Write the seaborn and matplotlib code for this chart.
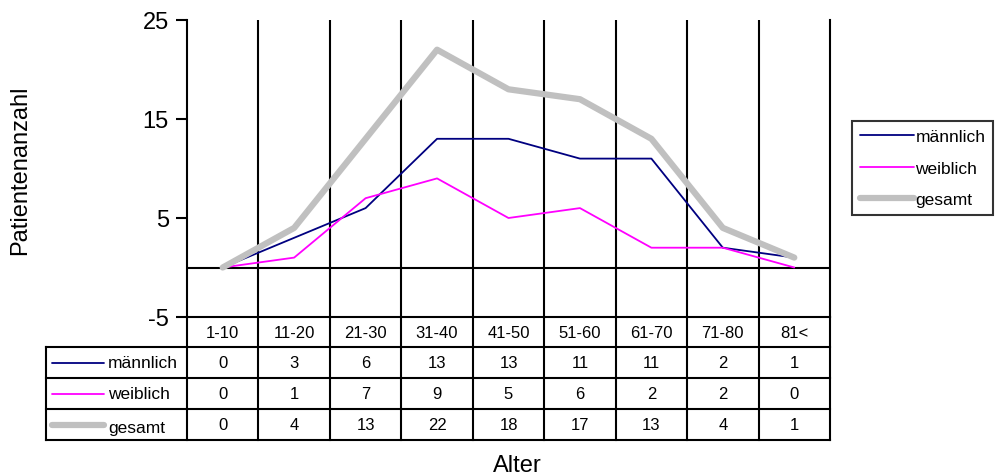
import matplotlib
matplotlib.use("Agg")
import matplotlib.pyplot as plt
from matplotlib.lines import Line2D
import seaborn as sns
import pandas as pd

# Altersgruppen und Patientenzahlen
categories = ["1-10", "11-20", "21-30", "31-40", "41-50", "51-60", "61-70", "71-80", "81<"]
maennlich = [0, 3, 6, 13, 13, 11, 11, 2, 1]
weiblich = [0, 1, 7, 9, 5, 6, 2, 2, 0]
gesamt = [0, 4, 13, 22, 18, 17, 13, 4, 1]
series_names = ["männlich", "weiblich", "gesamt"]
y_ticks = [-5, 5, 15, 25]

sns.set_theme(style="white")
plt.rcParams["font.family"] = ["Liberation Sans", "DejaVu Sans"]
plt.rcParams["text.color"] = "black"
plt.rcParams["ytick.color"] = "black"
plt.rcParams["ytick.labelcolor"] = "black"

W, H = 996, 477
fig = plt.figure(figsize=(W / 100, H / 100), dpi=100)

# plot area in pixel coordinates
X0, X1 = 187, 830
Y_TOP, Y_BOT = 21, 318
ax = fig.add_axes([X0 / W, 1 - Y_BOT / H, (X1 - X0) / W, (Y_BOT - Y_TOP) / H])

df = pd.DataFrame({
    "pos": [i + 0.5 for i in range(len(categories))] * 3,
    "wert": maennlich + weiblich + gesamt,
    "serie": [series_names[0]] * len(categories)
    + [series_names[1]] * len(categories)
    + [series_names[2]] * len(categories),
})
palette = {"männlich": "#000080", "weiblich": "#FF00FF", "gesamt": "#C0C0C0"}
widths = {"männlich": 1.3, "weiblich": 1.3, "gesamt": 4.5}

for name in series_names:
    sns.lineplot(data=df[df["serie"] == name], x="pos", y="wert", color=palette[name],
                 lw=widths[name], ax=ax, legend=False, solid_capstyle="round",
                 solid_joinstyle="round", zorder=3)

ax.set_xlim(0, len(categories))
ax.set_ylim(-5, 25)
ax.set_yticks(y_ticks)
ax.set_yticklabels([str(v) for v in y_ticks], fontsize=17)
ax.set_xticks([])
ax.set_xlabel("")
ax.set_ylabel("")
ax.tick_params(axis="y", direction="out", length=8, width=1.5, color="black", pad=5, left=True)
for s in ["top", "bottom"]:
    ax.spines[s].set_visible(False)
for s in ["left", "right"]:
    ax.spines[s].set_color("black")
    ax.spines[s].set_linewidth(1.5)
ax.axhline(0, color="black", lw=1.5, zorder=2)
for i in range(1, len(categories)):
    ax.axvline(i, color="black", lw=1.5, zorder=2)


def px(x, y):
    return x / W, 1 - y / H


def fline(x0, y0, x1, y1, **kw):
    (a, b), (c, d) = px(x0, y0), px(x1, y1)
    fig.add_artist(Line2D([a, c], [b, d], transform=fig.transFigure,
                          color=kw.get("color", "black"), lw=kw.get("lw", 1.5),
                          solid_capstyle=kw.get("cap", "projecting")))


# data table below the plot
col_w = (X1 - X0) / len(categories)
row_y = [318, 348, 379, 410, 441]
TBL_LEFT = 46
fline(X0, row_y[0], X1, row_y[0])
for yy in row_y[1:]:
    fline(TBL_LEFT, yy, X1, yy)
fline(TBL_LEFT, row_y[1], TBL_LEFT, row_y[-1])
for i in range(len(categories) + 1):
    xx = X0 + i * col_w
    fline(xx, row_y[0], xx, row_y[-1])

for i, c in enumerate(categories):
    fig.text(*px(X0 + (i + 0.5) * col_w, (row_y[0] + row_y[1]) / 2 + 1), c,
             ha="center", va="center", fontsize=12)

rows = [maennlich, weiblich, gesamt]
for r, (name, vals) in enumerate(zip(series_names, rows)):
    yc = (row_y[r + 1] + row_y[r + 2]) / 2
    fline(52, yc, 104, yc, color=palette[name], lw=widths[name], cap="round")
    fig.text(*px(108, yc + (3 if name == "gesamt" else 0)), name, ha="left", va="center", fontsize=12.5)
    for i, v in enumerate(vals):
        fig.text(*px(X0 + (i + 0.5) * col_w, yc), str(v), ha="center", va="center", fontsize=12)

# legend
handles = [Line2D([], [], color=palette[n], lw=widths[n], solid_capstyle="round") for n in series_names]
leg = fig.legend(handles, series_names, loc="upper left", bbox_to_anchor=px(852, 122),
                 fontsize=12.5, frameon=True, fancybox=False, handlelength=3.1,
                 handletextpad=0.1, borderpad=0.45, labelspacing=0.95, borderaxespad=0)
leg.get_frame().set_edgecolor("black")
leg.get_frame().set_linewidth(1.5)

fig.text(*px(20, 170), "Patientenanzahl", rotation=90, ha="center", va="center", fontsize=17)
fig.text(*px(517, 466), "Alter", ha="center", va="center", fontsize=17)

fig.savefig("out.png", dpi=100, facecolor="white")
